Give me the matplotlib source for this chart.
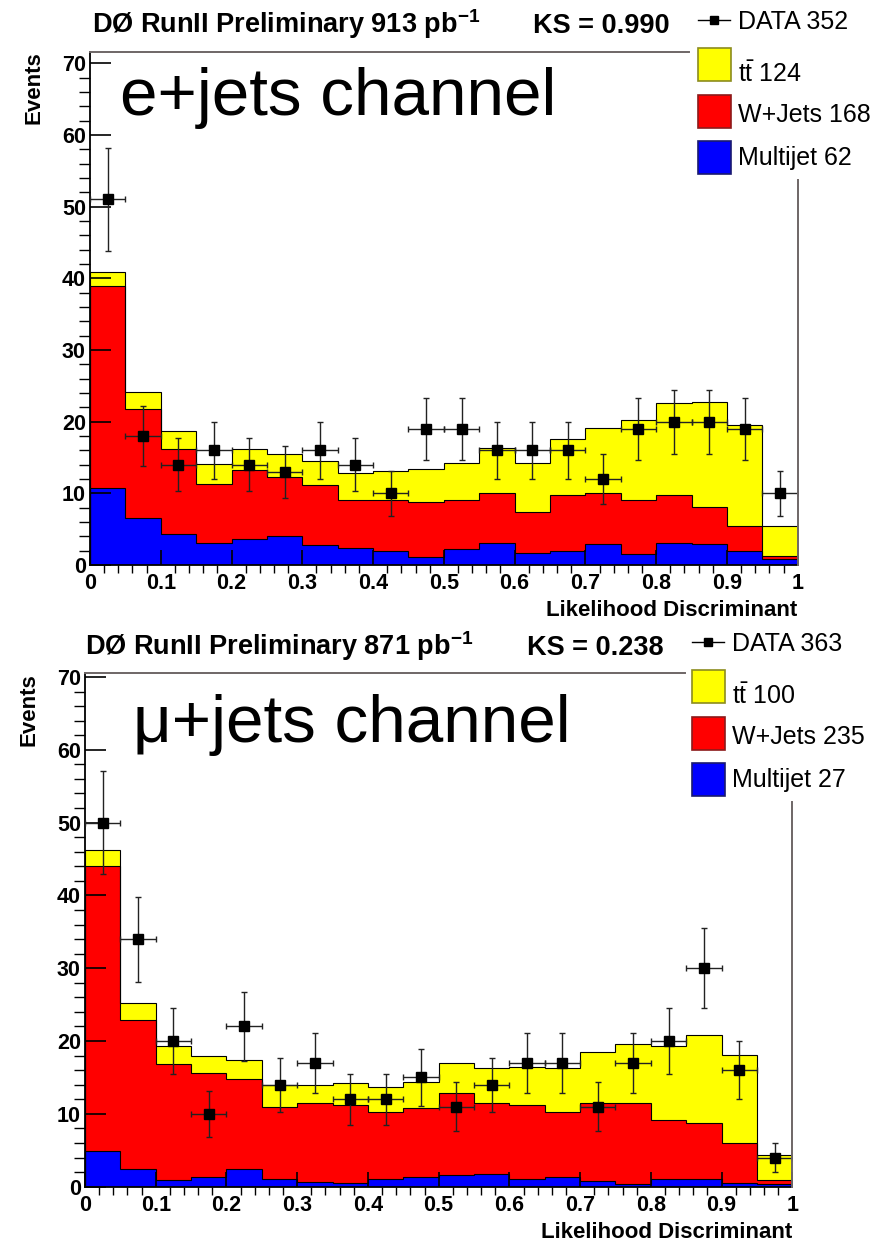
import numpy as np
import matplotlib
matplotlib.use("Agg")
import matplotlib.pyplot as plt
from matplotlib.patches import Rectangle

plt.rcParams['font.family'] = ['Liberation Sans', 'DejaVu Sans']
plt.rcParams['mathtext.fontset'] = 'custom'
plt.rcParams['mathtext.rm'] = 'Liberation Sans'
plt.rcParams['mathtext.bf'] = 'Liberation Sans:bold'

# ---- binning of the likelihood discriminant ----
bin_edges = np.round(np.arange(21) * 0.05, 2)

# ---- e+jets channel ----
e_data = [51, 18, 14, 16, 14, 13, 16, 14, 10, 19, 19, 16, 16, 16, 12, 19, 20, 20, 19, 10]
e_multijet = [10.8, 6.6, 4.3, 3.1, 3.6, 4.1, 2.8, 2.4, 1.9, 1.1,
              2.2, 3.0, 1.7, 2.0, 2.9, 1.6, 3.0, 2.9, 1.9, 0.9]
e_wjets = [28.1, 15.1, 11.9, 8.2, 9.7, 8.2, 8.3, 6.6, 7.1, 7.7,
           6.8, 7.1, 5.7, 7.7, 7.2, 7.4, 6.8, 5.2, 3.6, 0.3]
e_ttbar = [2.0, 2.5, 2.55, 2.8, 2.9, 3.2, 3.4, 3.9, 4.1, 4.6,
           5.2, 6.2, 6.8, 7.9, 9.0, 11.2, 12.8, 14.7, 14.0, 4.2]
e_counts = ['352', '124', '168', '62']

# ---- mu+jets channel ----
mu_data = [50, 34, 20, 10, 22, 14, 17, 12, 12, 15, 11, 14, 17, 17, 11, 17, 20, 30, 16, 4]
mu_multijet = [4.9, 2.4, 0.9, 1.4, 2.4, 1.1, 0.7, 0.55, 1.1, 1.4,
               1.6, 1.8, 1.1, 1.4, 0.8, 0.4, 1.0, 1.1, 0.55, 0.4]
mu_wjets = [39.1, 20.5, 16.0, 14.2, 12.35, 9.9, 10.75, 10.65, 9.2, 9.4,
            11.2, 9.65, 10.1, 8.9, 10.7, 11.1, 8.1, 7.6, 5.45, 0.5]
mu_ttbar = [2.2, 2.3, 2.4, 2.4, 2.65, 3.0, 2.45, 3.0, 3.4, 3.6,
            4.15, 4.85, 5.3, 6.0, 7.0, 8.1, 10.2, 12.1, 12.1, 3.5]
mu_counts = ['363', '100', '235', '27']

x_ticks = [0, 0.1, 0.2, 0.3, 0.4, 0.5, 0.6, 0.7, 0.8, 0.9, 1.0]
x_tick_labels = ['0', '0.1', '0.2', '0.3', '0.4', '0.5', '0.6', '0.7', '0.8', '0.9', '1']
y_ticks = [0, 10, 20, 30, 40, 50, 60, 70]
y_tick_labels = ['0', '10', '20', '30', '40', '50', '60', '70']

W, H = 878, 1242
YELLOW, RED, BLUE = '#ffff00', '#ff0000', '#0000ff'
FRAME_GREY = '#6e6666'

fig = plt.figure(figsize=(W / 100, H / 100), dpi=100)


def rect_px(left, right, top, bottom):
    return [left / W, 1 - bottom / H, (right - left) / W, (bottom - top) / H]


panels = [
    dict(box=(90, 797.7, 51.7, 565.0), ymax=71.6, data=e_data, mj=e_multijet,
         wj=e_wjets, tt=e_ttbar, counts=e_counts, lumi='913', ks='0.990',
         channel='e+jets channel', chan_xy=(120, 115), title_xy=(92, 33),
         ks_x=533, leg_xy=(698, 0), ylab_x=34, xlab_base=616,
         top_end=0.847, right_start=0.75),
    dict(box=(85, 792.3, 673.3, 1186.7), ymax=70.5, data=mu_data, mj=mu_multijet,
         wj=mu_wjets, tt=mu_ttbar, counts=mu_counts, lumi='871', ks='0.238',
         channel='\u03bc+jets channel', chan_xy=(133, 742), title_xy=(85, 655),
         ks_x=527, leg_xy=(692, 622), ylab_x=29, xlab_base=1238,
         top_end=0.848, right_start=0.749),
]

axes = []
for p in panels:
    ax = fig.add_axes(rect_px(*p['box']))
    axes.append(ax)
    mj = np.array(p['mj'])
    wj = np.array(p['wj'])
    tt = np.array(p['tt'])
    data = np.array(p['data'], dtype=float)

    # stacked backgrounds: each layer drawn as a cumulative total
    for total, col in [(mj + wj + tt, YELLOW), (mj + wj, RED), (mj, BLUE)]:
        ax.stairs(total, bin_edges, fill=True, color=col, zorder=1)
        ax.stairs(total, bin_edges, color='black', lw=0.8, zorder=2)

    centers = 0.5 * (bin_edges[:-1] + bin_edges[1:])
    ax.errorbar(centers, data, xerr=0.025, yerr=np.sqrt(data), fmt='s',
                color='black', ecolor='#222222', ms=7.2, elinewidth=1.0,
                capsize=2.2, capthick=1.0, zorder=5)

    ax.set_xlim(0, 1)
    ax.set_ylim(0, p['ymax'])
    ax.set_xticks(x_ticks)
    ax.set_xticklabels(x_tick_labels)
    ax.set_xticks(np.round(np.arange(0, 1.0001, 0.02), 2), minor=True)
    ax.set_yticks(y_ticks)
    ax.set_yticklabels(y_tick_labels)
    ax.set_yticks(np.arange(0, 71, 2), minor=True)
    ax.tick_params(direction='in', top=False, right=False, width=1.2,
                   labelsize=15.5)
    ax.tick_params(axis='x', which='major', length=10.8, pad=6.0)
    ax.tick_params(axis='x', which='minor', length=5.4, width=1.0)
    ax.tick_params(axis='y', which='major', length=15.3, pad=3.0)
    ax.tick_params(axis='y', which='minor', length=7.6, width=1.0)
    for lab in ax.get_xticklabels() + ax.get_yticklabels():
        lab.set_fontweight('bold')

    ax.spines['top'].set_visible(False)
    ax.spines['right'].set_visible(False)
    for s in ('left', 'bottom'):
        ax.spines[s].set_linewidth(1.3)
        ax.spines[s].set_color('black')
    ax.plot([0, p['top_end']], [1, 1], transform=ax.transAxes,
            color=FRAME_GREY, lw=1.4, clip_on=False, zorder=6)
    ax.plot([1, 1], [0, p['right_start']], transform=ax.transAxes,
            color=FRAME_GREY, lw=1.4, clip_on=False, zorder=6)

# overlay in pixel coordinates for titles, labels and legends
ov = fig.add_axes([0, 0, 1, 1])
ov.set_xlim(0, W)
ov.set_ylim(H, 0)
ov.axis('off')
ov.patch.set_alpha(0)

for p in panels:
    left, right, top, bottom = p['box']
    tx, ty = p['title_xy']
    ov.text(tx, ty, 'D\u00d8 RunII Preliminary ' + p['lumi'] + r' pb$^{\mathbf{-1}}$',
            fontsize=19.5, fontweight='bold', va='baseline', ha='left')
    ov.text(p['ks_x'], ty, 'KS = ' + p['ks'], fontsize=19.5, fontweight='bold',
            va='baseline', ha='left')

    cx, cy = p['chan_xy']
    ov.text(cx, cy, p['channel'], fontsize=48.5, va='baseline', ha='left')

    ov.text(p['ylab_x'], top, 'Events', rotation=90, fontsize=16,
            fontweight='bold', ha='center', va='top')
    ov.text(right, p['xlab_base'], 'Likelihood Discriminant', fontsize=16,
            fontweight='bold', ha='right', va='baseline')

    # legend
    lx, ly = p['leg_xy']
    ov.plot([lx, lx + 32], [ly + 20, ly + 20], color='black', lw=1.0)
    ov.plot([lx + 16], [ly + 20], marker='s', color='black', ms=5.5)
    ov.text(lx + 40, ly + 29, 'DATA ' + p['counts'][0], fontsize=18,
            va='baseline', ha='left')
    entries = [
        (48, 82, YELLOW, '#8c8c1e', r'$\mathrm{t\bar{t}}$ ' + p['counts'][1]),
        (95, 122, RED, '#8c1a1a', 'W+Jets ' + p['counts'][2]),
        (141, 165, BLUE, '#1a1a70', 'Multijet ' + p['counts'][3]),
    ]
    for btop, base, face, edge, label in entries:
        ov.add_patch(Rectangle((lx, ly + btop), 33, 33, facecolor=face,
                               edgecolor=edge, lw=1.2))
        ov.text(lx + 40, ly + base, label, fontsize=18, va='baseline', ha='left')

fig.savefig('out.png', dpi=100)
